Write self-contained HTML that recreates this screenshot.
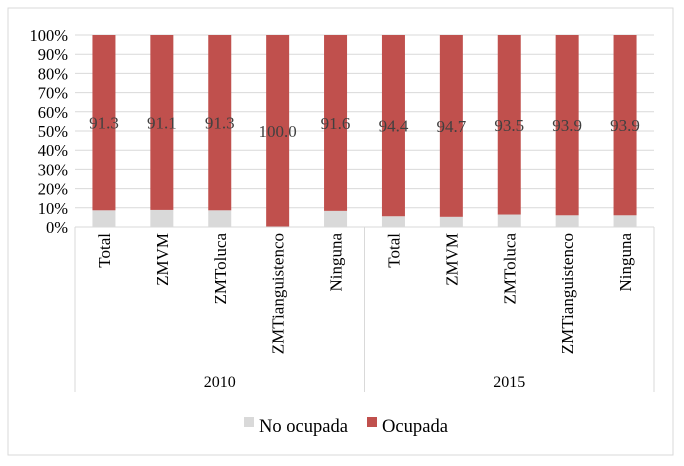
<!DOCTYPE html>
<html><head><meta charset="utf-8"><style>
body{margin:0;background:#fff;}
svg{display:block;font-family:"Liberation Serif",serif;}
</style></head><body>
<svg id="c" width="684" height="466">
<rect x="8" y="8" width="665" height="447" fill="#fff" stroke="#d9d9d9"/>
<g id="g"></g>
</svg>
<script>
const categories=["Total","ZMVM","ZMToluca","ZMTianguistenco","Ninguna","Total","ZMVM","ZMToluca","ZMTianguistenco","Ninguna"];
const years=["2010","2015"];
const ocupada=[91.3,91.1,91.3,100.0,91.6,94.4,94.7,93.5,93.9,93.9];
const noOcupada=[8.7,8.9,8.7,0.0,8.4,5.6,5.3,6.5,6.1,6.1];
const ticks=[0,10,20,30,40,50,60,70,80,90,100];
const NS="http://www.w3.org/2000/svg";
const g=document.getElementById('g');
const L=75,R=654,T=35,B=227;
const cw=(R-L)/categories.length;
const y=v=>B-(B-T)*v/100;
const xc=i=>L+cw*(i+0.5);
function mk(t,a){const e=document.createElementNS(NS,t);for(const k in a)e.setAttribute(k,a[k]);g.appendChild(e);return e;}
ticks.forEach(t=>{
  const l=mk('line',{x1:L,x2:R,y1:y(t),y2:y(t),stroke:'#d9d9d9','stroke-width':1});
  
  
  const tx=mk('text',{x:68,y:y(t)+6,'text-anchor':'end','font-size':16.5,fill:'#000'});
  tx.textContent=t+'%';
  
  
});
const bw=23;
categories.forEach((c,i)=>{
  const total=ocupada[i]+noOcupada[i];
  const n=noOcupada[i]/total*100;
  const r1=mk('rect',{x:xc(i)-bw/2,y:y(n),width:bw,height:B-y(n),fill:'#d9d9d9'});
  
  
  const r2=mk('rect',{x:xc(i)-bw/2,y:y(100),width:bw,height:y(n)-y(100),fill:'#c0504d'});
  
  
  const v=mk('text',{x:xc(i),y:y((n+100)/2)+6,'text-anchor':'middle','font-size':17,fill:'#404040'});
  v.textContent=ocupada[i].toFixed(1);
  
  
  const cl=mk('text',{transform:`translate(${xc(i)+6},233) rotate(-90)`,'text-anchor':'end','font-size':17,fill:'#000'});
  cl.textContent=c;
  
  
});
const ax=mk('line',{x1:L,x2:R,y1:B,y2:B,stroke:'#d9d9d9'});


[L,(L+R)/2,R].forEach(x=>{
  const l=mk('line',{x1:x,x2:x,y1:B,y2:392,stroke:'#d9d9d9'});
  
  
});
years.forEach((yr,k)=>{
  const t=mk('text',{x:L+(R-L)/4*(2*k+1),y:387,'text-anchor':'middle','font-size':16,fill:'#000'});
  t.textContent=yr;
  
  
});
const lg=[["No ocupada","#d9d9d9",244,89],["Ocupada","#c0504d",367,66]];
lg.forEach(([n,c,x,w])=>{
  const r=mk('rect',{x:x,y:417,width:10,height:10,fill:c});
  
  
  const t=mk('text',{x:x+15,y:432,'font-size':19,fill:'#000',textLength:w,lengthAdjust:'spacingAndGlyphs'});
  t.textContent=n;
  
  
});
</script>
</body></html>
